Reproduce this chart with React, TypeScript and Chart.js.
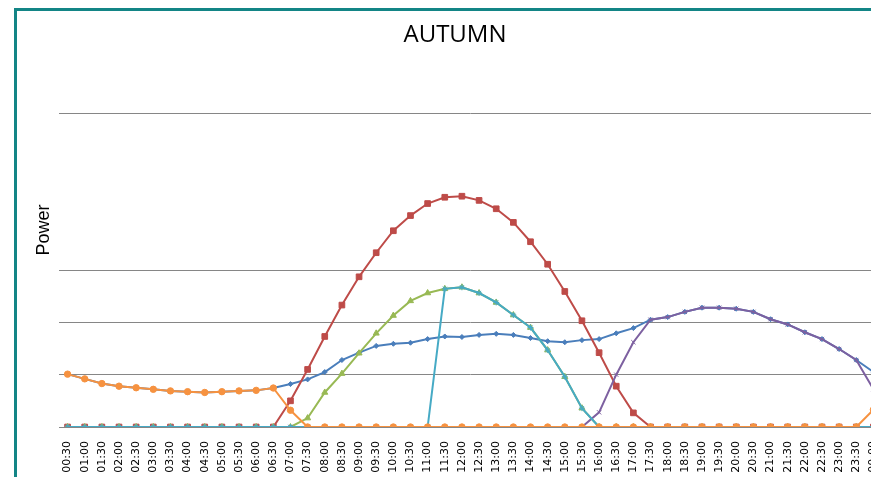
import React, { useEffect, useRef } from "react";
import { Chart, registerables } from "chart.js";

Chart.register(...registerables);

const TIME_LABELS = [
  "00:30", "01:00", "01:30", "02:00", "02:30", "03:00", "03:30", "04:00",
  "04:30", "05:00", "05:30", "06:00", "06:30", "07:00", "07:30", "08:00",
  "08:30", "09:00", "09:30", "10:00", "10:30", "11:00", "11:30", "12:00",
  "12:30", "13:00", "13:30", "14:00", "14:30", "15:00", "15:30", "16:00",
  "16:30", "17:00", "17:30", "18:00", "18:30", "19:00", "19:30", "20:00",
  "20:30", "21:00", "21:30", "22:00", "22:30", "23:00", "23:30", "00:00",
];

const GRID_VALUES = [0, 1, 2, 3, 6];

const SERIES_BLUE = [
  1.01, 0.92, 0.83, 0.78, 0.75, 0.72, 0.69, 0.675, 0.66, 0.675, 0.69, 0.7,
  0.745, 0.82, 0.91, 1.05, 1.28, 1.42, 1.55, 1.59, 1.61, 1.68, 1.73, 1.72,
  1.76, 1.78, 1.76, 1.7, 1.64, 1.62, 1.66, 1.68, 1.79, 1.89, 2.05, 2.1,
  2.2, 2.28, 2.28, 2.26, 2.2, 2.06, 1.96, 1.81, 1.68, 1.49, 1.28, 1.05,
];

const SERIES_RED = [
  0, 0, 0, 0, 0, 0, 0, 0, 0, 0, 0, 0,
  0, 0.5, 1.1, 1.73, 2.33, 2.87, 3.33, 3.75, 4.04, 4.27, 4.39, 4.41,
  4.33, 4.17, 3.91, 3.54, 3.11, 2.59, 2.03, 1.42, 0.78, 0.27, 0, 0,
  0, 0, 0, 0, 0, 0, 0, 0, 0, 0, 0, 0,
];

const SERIES_GREEN = [
  0, 0, 0, 0, 0, 0, 0, 0, 0, 0, 0, 0,
  0, 0, 0.17, 0.66, 1.02, 1.41, 1.79, 2.13, 2.41, 2.56, 2.64, 2.67,
  2.56, 2.38, 2.14, 1.9, 1.47, 0.96, 0.36, 0, 0, 0, 0, 0,
  0, 0, 0, 0, 0, 0, 0, 0, 0, 0, 0, 0,
];

const SERIES_PURPLE = [
  0, 0, 0, 0, 0, 0, 0, 0, 0, 0, 0, 0,
  0, 0, 0, 0, 0, 0, 0, 0, 0, 0, 0, 0,
  0, 0, 0, 0, 0, 0, 0, 0.28, 1.0, 1.62, 2.05, 2.1,
  2.2, 2.28, 2.28, 2.26, 2.2, 2.06, 1.96, 1.81, 1.68, 1.49, 1.28, 0.72,
];

const SERIES_TEAL = [
  0, 0, 0, 0, 0, 0, 0, 0, 0, 0, 0, 0,
  0, 0, 0, 0, 0, 0, 0, 0, 0, 0, 2.64, 2.67,
  2.56, 2.38, 2.14, 1.9, 1.47, 0.96, 0.36, 0, 0, 0, 0, 0,
  0, 0, 0, 0, 0, 0, 0, 0, 0, 0, 0, 0,
];

const SERIES_ORANGE = [
  1.01, 0.92, 0.83, 0.78, 0.75, 0.72, 0.69, 0.675, 0.66, 0.675, 0.69, 0.7,
  0.745, 0.32, 0, 0, 0, 0, 0, 0, 0, 0, 0, 0,
  0, 0, 0, 0, 0, 0, 0, 0, 0, 0, 0, 0,
  0, 0, 0, 0, 0, 0, 0, 0, 0, 0, 0, 0.33,
];

export default function App() {
  const ref = useRef<HTMLCanvasElement | null>(null);

  useEffect(() => {
    if (!ref.current) return;
    const mk = (
      data: number[],
      color: string,
      pointStyle: any,
      radius: number,
      order: number
    ) => ({
      data,
      borderColor: color,
      backgroundColor: color,
      pointBackgroundColor: color,
      pointBorderColor: color,
      pointStyle,
      pointRadius: radius,
      pointBorderWidth: 1,
      borderWidth: 2,
      tension: 0,
      order,
    });
    const chart = new Chart(ref.current, {
      type: "line",
      data: {
        labels: TIME_LABELS,
        datasets: [
          mk(SERIES_BLUE, "#4A7EBB", "rectRot", 2.5, 6),
          mk(SERIES_RED, "#BE4B48", "rect", 4, 5),
          mk(SERIES_GREEN, "#98B954", "triangle", 3.5, 4),
          mk(SERIES_PURPLE, "#7D60A0", "crossRot", 3, 3),
          mk(SERIES_TEAL, "#46AAC5", "star", 3, 2),
          mk(SERIES_ORANGE, "#F69240", "circle", 3.2, 1),
        ] as any,
      },
      options: {
        responsive: false,
        animation: false,
        layout: { padding: { left: 11, right: 14, top: 0, bottom: 0 } },
        plugins: {
          legend: { display: false },
          tooltip: { enabled: false },
          title: {
            display: true,
            text: "AUTUMN",
            color: "#000",
            font: { family: "Open Sans", size: 24, weight: "normal" },
            padding: { top: 10, bottom: 63.2 },
          },
        },
        scales: {
          x: {
            offset: true,
            grid: { display: false, drawTicks: false },
            border: { display: true, color: "#868686", width: 1 },
            ticks: {
              autoSkip: false,
              minRotation: 90,
              maxRotation: 90,
              padding: 14,
              color: "#000",
              font: { family: "DejaVu Sans", size: 11 },
            },
            afterFit: (s: any) => {
              s.height = 64;
              s.paddingLeft = 0;
              s.paddingRight = 0;
            },
          },
          y: {
            min: 0,
            max: 6,
            grid: { color: "#868686", lineWidth: 1, drawTicks: false },
            border: { display: false },
            ticks: { display: false },
            afterBuildTicks: (s: any) => {
              s.ticks = GRID_VALUES.map((v) => ({ value: v }));
            },
            afterFit: (s: any) => {
              s.width = 31;
            },
            title: {
              display: true,
              text: "                Power",
              color: "#000",
              font: { family: "Liberation Sans", size: 18 },
              padding: { top: 5, bottom: 4 },
            },
          },
        },
      } as any,
    });
    return () => chart.destroy();
  }, []);

  return (
    <div
      style={{
        position: "fixed",
        left: 0,
        top: 0,
        width: 871,
        height: 477,
        overflow: "hidden",
        background: "#fff",
      }}
    >
      <div
        style={{
          position: "absolute",
          left: 14,
          top: 8,
          width: 1000,
          height: 1000,
          borderLeft: "3px solid #138586",
          borderTop: "3px solid #138586",
        }}
      />
      <div style={{ position: "absolute", left: 17, top: 11 }}>
        <canvas ref={ref} width={879} height={480} style={{ display: "block" }} />
      </div>
    </div>
  );
}
